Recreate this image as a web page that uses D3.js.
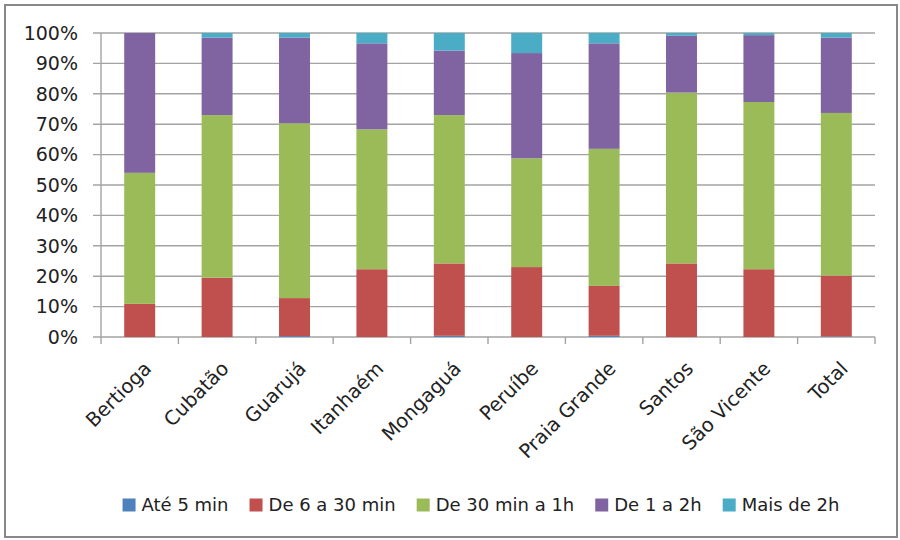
<!DOCTYPE html>
<html>
<head>
<meta charset="utf-8">
<script src="https://cdn.jsdelivr.net/npm/d3@7/dist/d3.min.js"></script>
<style>
  html, body { margin: 0; padding: 0; background: #fff; }
  svg { display: block; }
  text { font-family: "DejaVu Sans", sans-serif; fill: #222; }
</style>
</head>
<body>
<svg id="chart" width="900" height="540"></svg>
<script>
// ---- data ----
const categories = ["Bertioga", "Cubatão", "Guarujá", "Itanhaém", "Mongaguá", "Peruíbe", "Praia Grande", "Santos", "São Vicente", "Total"];
const seriesNames = ["Até 5 min", "De 6 a 30 min", "De 30 min a 1h", "De 1 a 2h", "Mais de 2h"];
const ate5min     = [0.0, 0.0, 0.3, 0.0, 0.4, 0.0, 0.4, 0.0, 0.0, 0.2];
const de6a30min   = [10.9, 19.5, 12.5, 22.3, 23.8, 23.0, 16.4, 24.2, 22.3, 20.0];
const de30mina1h  = [43.1, 53.5, 57.5, 46.0, 48.8, 35.8, 45.1, 56.2, 55.0, 53.5];
const de1a2h      = [46.0, 25.5, 28.2, 28.3, 21.2, 34.6, 34.7, 18.7, 22.0, 24.8];
const maisDe2h    = [0.0, 1.5, 1.5, 3.4, 5.8, 6.6, 3.4, 0.9, 0.7, 1.5];
const yTicks = [0, 10, 20, 30, 40, 50, 60, 70, 80, 90, 100];
const colors = ["#4F81BD", "#C0504D", "#9BBB59", "#8064A2", "#4BACC6"];

const seriesValues = [ate5min, de6a30min, de30mina1h, de1a2h, maisDe2h];
const table = categories.map((c, i) => {
  const row = { category: c };
  seriesNames.forEach((s, k) => { row[s] = seriesValues[k][i]; });
  return row;
});

// ---- layout ----
const svg = d3.select("#chart");
const plot = { left: 101, right: 875, top: 33, bottom: 337 };

svg.append("rect")
  .attr("x", 5).attr("y", 5).attr("width", 892).attr("height", 532)
  .attr("fill", "#fff").attr("stroke", "#888").attr("stroke-width", 2);

const x = d3.scaleBand().domain(categories).range([plot.left, plot.right]).paddingInner(0.6).paddingOuter(0.3);
const xTickScale = d3.scaleBand().domain(categories).range([plot.left, plot.right]);
const y = d3.scaleLinear().domain([0, 100]).range([plot.bottom, plot.top]);

// gridlines
svg.append("g")
  .selectAll("line")
  .data(yTicks)
  .join("line")
  .attr("x1", plot.left - 8).attr("x2", plot.right)
  .attr("y1", d => y(d)).attr("y2", d => y(d))
  .attr("stroke", "#a3a3a3").attr("stroke-width", 1.4);

// y axis labels
svg.append("g")
  .selectAll("text")
  .data(yTicks)
  .join("text")
  .attr("x", 78).attr("y", d => y(d))
  .attr("dy", "0.36em")
  .attr("text-anchor", "end")
  .style("font-size", "19px")
  .text(d => d + "%");

// y axis line
svg.append("line")
  .attr("x1", plot.left).attr("x2", plot.left)
  .attr("y1", plot.top).attr("y2", plot.bottom)
  .attr("stroke", "#a3a3a3").attr("stroke-width", 1.4);

// x ticks
const xTickPos = categories.map(c => xTickScale(c)).concat([plot.right]);
svg.append("g")
  .selectAll("line")
  .data(xTickPos)
  .join("line")
  .attr("x1", d => d).attr("x2", d => d)
  .attr("y1", plot.bottom).attr("y2", plot.bottom + 7)
  .attr("stroke", "#a3a3a3").attr("stroke-width", 1.4);

// stacked bars
const stack = d3.stack().keys(seriesNames);
const stacked = stack(table);
svg.append("g")
  .selectAll("g")
  .data(stacked)
  .join("g")
  .attr("fill", (d, i) => colors[i])
  .selectAll("rect")
  .data(d => d)
  .join("rect")
  .attr("x", d => x(d.data.category))
  .attr("width", x.bandwidth())
  .attr("y", d => y(d[1]))
  .attr("height", d => Math.max(0, y(d[0]) - y(d[1])));

// x labels
svg.append("g")
  .selectAll("text")
  .data(categories)
  .join("text")
  .attr("transform", c => `translate(${xTickScale(c) + xTickScale.bandwidth() / 2 + 8}, 365) rotate(-45)`)
  .attr("text-anchor", "end")
  .attr("dy", "0.35em")
  .style("font-size", "19.5px")
  .text(c => c);

// legend
const legend = svg.append("g").attr("transform", "translate(0, 505)");
const fontSize = 18;
const items = [];
seriesNames.forEach((s, i) => {
  const g = legend.append("g");
  g.append("rect").attr("x", 0).attr("y", -6.5).attr("width", 13).attr("height", 13).attr("fill", colors[i]);
  const t = g.append("text").attr("x", 19).attr("dy", "0.36em").style("font-size", fontSize + "px").text(s);
  const w = 19 + t.node().getComputedTextLength();
  items.push({ g, w });
});
const gap = 21;
const total = d3.sum(items, d => d.w) + gap * (items.length - 1);
let cursor = 481 - total / 2;
items.forEach(it => {
  it.g.attr("transform", `translate(${cursor}, 0)`);
  cursor += it.w + gap;
});
</script>
</body>
</html>
